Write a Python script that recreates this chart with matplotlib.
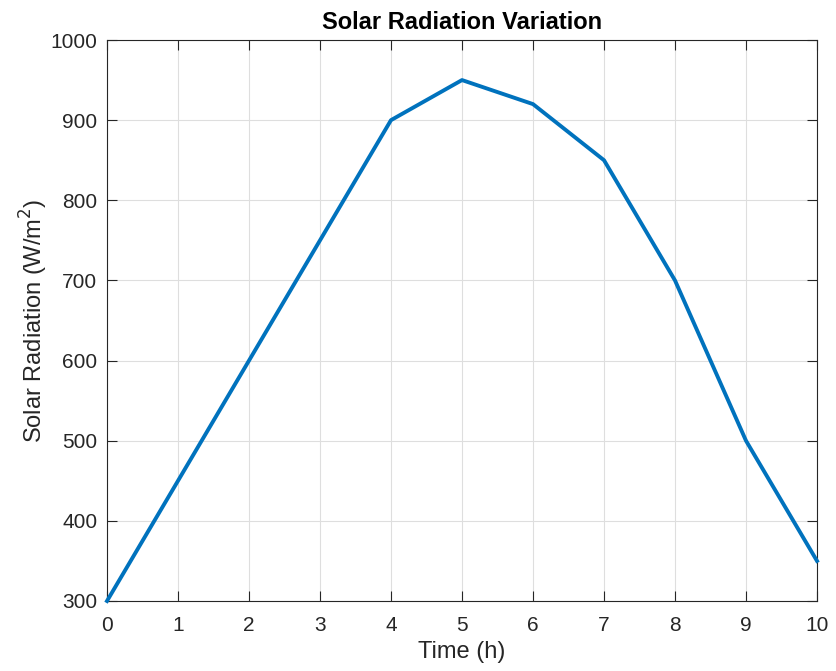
import matplotlib
matplotlib.use("Agg")
import matplotlib.pyplot as plt

time_h = [0, 1, 2, 3, 4, 5, 6, 7, 8, 9, 10]
radiation = [300, 450, 600, 750, 900, 950, 920, 850, 700, 500, 350]
x_ticks = list(range(0, 11))
y_ticks = [300, 400, 500, 600, 700, 800, 900, 1000]

plt.rcParams['font.family'] = ['Liberation Sans', 'DejaVu Sans']

fig = plt.figure(figsize=(8.36, 6.71), dpi=100)
ax = fig.add_axes([107/836, 1-601/671, (817-107)/836, (601-40)/671])
ax.plot(time_h, radiation, color='#0072BD', linewidth=2.8, clip_on=False, zorder=3)
ax.set_xlim(0, 10)
ax.set_ylim(300, 1000)
ax.set_xticks(x_ticks)
ax.set_yticks(y_ticks)
ax.grid(True, color='#dedede', linewidth=0.8)
ax.set_axisbelow(True)
ax.tick_params(direction='in', top=True, right=True, labelsize=15, colors='#262626',
               length=7, width=0.8)
ax.tick_params(axis='x', pad=11)
ax.tick_params(axis='y', pad=7)
for s in ax.spines.values():
    s.set_color('#262626')
    s.set_linewidth(0.8)
ax.set_xlabel('Time (h)', fontsize=17, color='#262626', labelpad=4)
ax.set_ylabel('Solar Radiation (W/m$^2$)', fontsize=17, color='#262626', labelpad=0)
ax.set_title('Solar Radiation Variation', fontsize=17, fontweight='bold', color='black', pad=8)
fig.savefig('out.png', dpi=100)
